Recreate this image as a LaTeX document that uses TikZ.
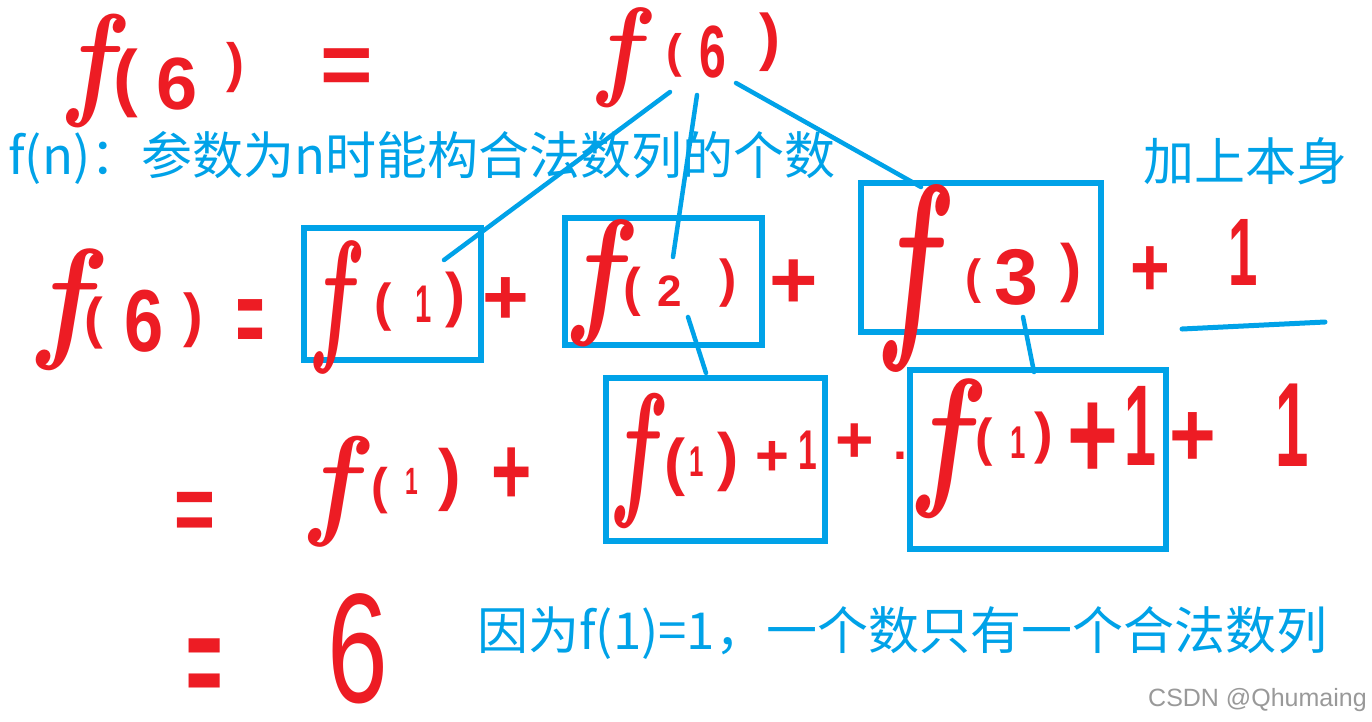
\documentclass[tikz,border=0pt]{standalone}
\usepackage{fontspec}
\usepackage{graphicx}
\newfontfamily\cjk{Noto Sans CJK SC}
\newfontfamily\hws{Liberation Sans}
\definecolor{hred}{HTML}{ED1C24}
\definecolor{hblue}{HTML}{00A2E8}
\newcommand\fs[1]{\fontsize{#1}{#1}\selectfont}
\newcommand\hwg[5]{\node[hw] (#1) at (#2,#3) {\fs{#4}#5};}
\newcommand\hwf[5]{\node[hf] (#1) at (#2,#3) {\fs{#4}\scalebox{#5}[1]{f}};}
\tikzset{
  hw/.style={text=hred, inner sep=0pt, outer sep=0pt, font=\hws\bfseries},
  hf/.style={text=hred, inner sep=0pt, outer sep=0pt, font=\bfseries\itshape},
  bx/.style={draw=hblue, line width=6pt, inner sep=0pt, rectangle},
  ln/.style={draw=hblue, line width=4.5pt, line cap=round},
  bt/.style={text=hblue, inner sep=0pt, anchor=west, font=\cjk},
}
\begin{document}
\begin{tikzpicture}[x=1pt, y=-1pt]
\fill[white] (0,0) rectangle (1372,721);
\useasboundingbox (0,0) rectangle (1372,721);

% boxes
\node[bx, minimum width=177pt, minimum height=132pt] (boxA) at (392.5,294) {};
\node[bx, minimum width=197pt, minimum height=127pt] (boxB) at (663.5,281.5) {};
\node[bx, minimum width=240pt, minimum height=149pt] (boxC) at (981,257.5) {};
\node[bx, minimum width=219pt, minimum height=163pt] (boxD) at (715.5,459.5) {};
\node[bx, minimum width=256pt, minimum height=179pt] (boxE) at (1038,459.5) {};

% connectors
\coordinate (l1a) at (670,92);  \coordinate (l1b) at (444,260);
\coordinate (l2a) at (697,95);  \coordinate (l2b) at (673,257);
\coordinate (l3a) at (736,83);  \coordinate (l3b) at (921,187);
\coordinate (l4a) at (688,317); \coordinate (l4b) at (706,373);
\coordinate (l5a) at (1023,317); \coordinate (l5b) at (1034,372);
\coordinate (fba) at (1182,329); \coordinate (fbb) at (1325,322);
\draw[ln] (l1a) -- (l1b);
\draw[ln] (l2a) -- (l2b);
\draw[ln] (l3a) -- (l3b);
\draw[ln] (l4a) -- (l4b);
\draw[ln] (l5a) -- (l5b);
\draw[ln, line width=5pt] (fba) -- (fbb);

% top left  f(6) =
\hwf{tlf}{90}{71}{126}{0.85}
\hwg{tlp1}{126}{83}{74}{(}
\hwg{tl6}{177}{84}{74}{6}
\hwg{tlp2}{235}{68}{54}{)}
\hwg{tleq}{347}{72}{90}{=}

% top centre f(6)
\hwf{tcf}{618}{58}{111}{0.9}
\hwg{tcp1}{674}{55}{47}{(}
\hwg{tc6}{713}{52}{74}{\scalebox{0.65}[1]{6}}
\hwg{tcp2}{770}{42}{63}{)}

% row 2: f(6) =
\hwf{rf}{63}{310}{135}{0.9}
\hwg{rp1}{94}{323}{56}{(}
\hwg{r6}{144}{321}{88}{\scalebox{0.8}[1]{6}}
\hwg{rp2}{193}{320}{59}{)}
\hwg{req}{251}{327}{48}{\scalebox{1}[2.2]{=}}

% box A: f(1) +
\hwf{af}{333}{307}{148}{0.58}
\hwg{ap1}{383}{307}{52}{(}
\hwg{a1}{424}{304}{53}{\scalebox{0.55}[1]{1}}
\hwg{ap2}{455}{300}{60}{)}
\hwg{apl}{506}{301}{80}{+}

% box B: f(2) +
\hwf{bf}{596}{283}{141}{0.8}
\hwg{bp1}{632}{292}{53}{(}
\hwg{b2}{670}{291}{44}{2}
\hwg{bp2}{728}{283}{52}{)}
\hwg{bpl}{794}{284}{83}{+}

% box C: f(3) + 1
\hwf{cf}{910}{278}{208}{0.58}
\hwg{cp1}{973}{281}{48}{(}
\hwg{c3}{1016}{277}{79}{3}
\hwg{cp2}{1071}{273}{64}{)}
\hwg{cpl}{1150}{272}{68}{\scalebox{1}[1.25]{+}}
\hwg{c1}{1243}{252}{96}{\scalebox{0.55}[1]{1}}

% row 3: = f(1) +
\hwg{deq}{195}{517}{70}{\scalebox{1}[1.35]{=}}
\hwf{df}{333}{492}{123}{0.9}
\hwg{dp1}{380}{491}{50}{(}
\hwg{d1}{412}{481}{38}{\scalebox{0.6}[1]{1}}
\hwg{dp2}{450}{480}{68}{)}
\hwg{dpl}{512}{476}{69}{\scalebox{1}[1.4]{+}}

% box D: f(1)+1 + .
\hwf{ef}{634}{461}{150}{0.6}
\hwg{ep1}{675}{467}{63}{(}
\hwg{e1}{697}{462}{43}{\scalebox{0.6}[1]{1}}
\hwg{ep2}{728}{462}{64}{)}
\hwg{epl}{772}{458}{58}{+}
\hwg{e1b}{808}{450}{56}{\scalebox{0.6}[1]{1}}
\hwg{epl2}{855}{443}{66}{+}
\hwg{edot}{900}{456}{50}{.}

% box E: f(1)+1 + 1
\hwf{gf}{942}{449}{155}{0.77}
\hwg{gp1}{984}{442}{52}{(}
\hwg{g1}{1018}{443}{46}{\scalebox{0.6}[1]{1}}
\hwg{gp2}{1044}{438}{56}{)}
\hwg{gpl}{1093}{441}{87}{\scalebox{1}[1.5]{+}}
\hwg{g1b}{1140}{426}{115}{\scalebox{0.5}[1]{1}}
\hwg{gpl2}{1193}{440}{80}{\scalebox{1}[1.15]{+}}
\hwg{g1c}{1292}{425}{120}{\scalebox{0.5}[1]{1}}

% row 4: = 6
\hwg{feq}{205}{673}{62}{\scalebox{1}[2.1]{=}}
\hwg{f6}{358}{649}{156}{\mdseries\scalebox{0.7}[1]{6}}

% blue texts
\node[bt] (def) at (8,158) {\fs{51}f(n)：参数为n时能构合法数列的个数};
\node[bt] (self) at (1143,161) {\fs{51}加上本身};
\node[bt] (note) at (477,633) {\fs{51}因为f(1)=1，一个数只有一个合法数列};
\node[anchor=base west, inner sep=0pt, text=black!40, font=\hws] (wm) at (1148,706) {\fs{25}CSDN @Qhumaing};
\end{tikzpicture}
\end{document}
